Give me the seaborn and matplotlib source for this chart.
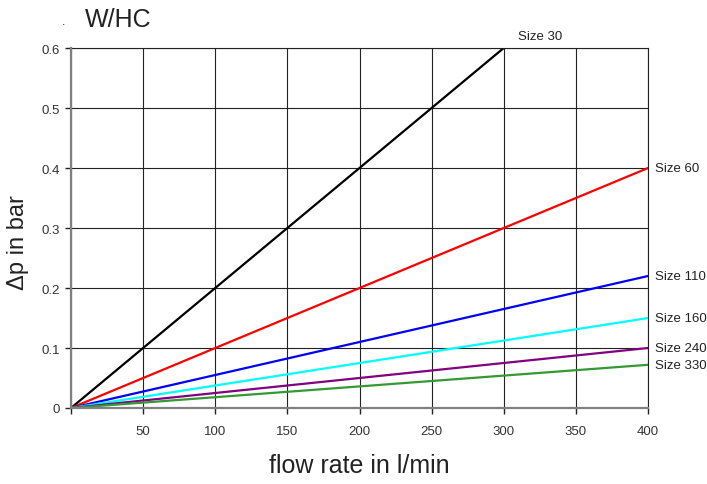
import matplotlib
matplotlib.use("Agg")
import matplotlib.pyplot as plt
import seaborn as sns
import pandas as pd

# Pressure drop vs. flow rate for each filter size (linear from the origin)
sizes = ["Size 30", "Size 60", "Size 110", "Size 160", "Size 240", "Size 330"]
end_flow = [300, 400, 400, 400, 400, 400]
end_dp = [0.6, 0.4, 0.22, 0.15, 0.1, 0.072]
colors = ["#000000", "#ff0000", "#0000ff", "#00ffff", "#800080", "#339933"]

x_ticks = [0, 50, 100, 150, 200, 250, 300, 350, 400]
x_tick_labels = ["", "50", "100", "150", "200", "250", "300", "350", "400"]
y_ticks = [0, 0.1, 0.2, 0.3, 0.4, 0.5, 0.6]
y_tick_labels = ["0", "0.1", "0.2", "0.3", "0.4", "0.5", "0.6"]

rows = []
for s, fx, fy in zip(sizes, end_flow, end_dp):
    rows.append({"size": s, "flow": 0, "dp": 0.0})
    rows.append({"size": s, "flow": fx, "dp": fy})
df = pd.DataFrame(rows)

sns.set_theme(style="white")
plt.rcParams["font.family"] = ["Liberation Sans", "DejaVu Sans"]

fig = plt.figure(figsize=(7.07, 4.85), dpi=100)
ax = fig.add_axes([71 / 707, 1 - 409 / 485, 577 / 707, 360 / 485])

ax.set_xlim(0, 400)
ax.set_ylim(0, 0.6)
ax.set_xticks(x_ticks)
ax.set_xticklabels(x_tick_labels)
ax.set_yticks(y_ticks)
ax.set_yticklabels(y_tick_labels)
ax.grid(True, color="#222222", linewidth=0.8)
ax.set_axisbelow(True)

sns.lineplot(data=df, x="flow", y="dp", hue="size", hue_order=sizes,
             palette=dict(zip(sizes, colors)), linewidth=1.6,
             legend=False, ax=ax, estimator=None, sort=False)

for s, fx, fy in zip(sizes, end_flow, end_dp):
    if fx < 400:
        ax.annotate(s, (fx, fy), xytext=(10, 9), textcoords="offset points",
                    fontsize=9.5, color="#222222", ha="left", va="center",
                    annotation_clip=False)
    else:
        ax.annotate(s, (fx, fy), xytext=(5, 0), textcoords="offset points",
                    fontsize=9.5, color="#222222", ha="left", va="center",
                    annotation_clip=False)

for side in ("top", "right"):
    ax.spines[side].set_color("#222222")
    ax.spines[side].set_linewidth(0.8)
for side in ("left", "bottom"):
    ax.spines[side].set_color("#808080")
    ax.spines[side].set_linewidth(1.6)
    ax.spines[side].set_zorder(3)

ax.tick_params(axis="both", direction="out", length=4, width=1,
               color="#222222", labelsize=9.5, labelcolor="#333333", pad=4,
               bottom=True, left=True)
ax.tick_params(axis="x", pad=8)

ax.set_xlabel("flow rate in l/min", fontsize=18, color="#222222", va="center")
ax.xaxis.set_label_coords(0.5, -(466 - 409) / 360)
ax.set_ylabel("Δp in bar", fontsize=17, color="#222222", va="center")
ax.yaxis.set_label_coords((18.5 - 71) / 577, (409 - 243) / 360)

fig.text(85 / 707, 1 - 20 / 485, "W/HC", fontsize=18, color="#222222",
         ha="left", va="center")
fig.text(62 / 707, 1 - 22 / 485, ".", fontsize=9, color="#222222",
         ha="left", va="center")

fig.savefig("out.png", dpi=100)
